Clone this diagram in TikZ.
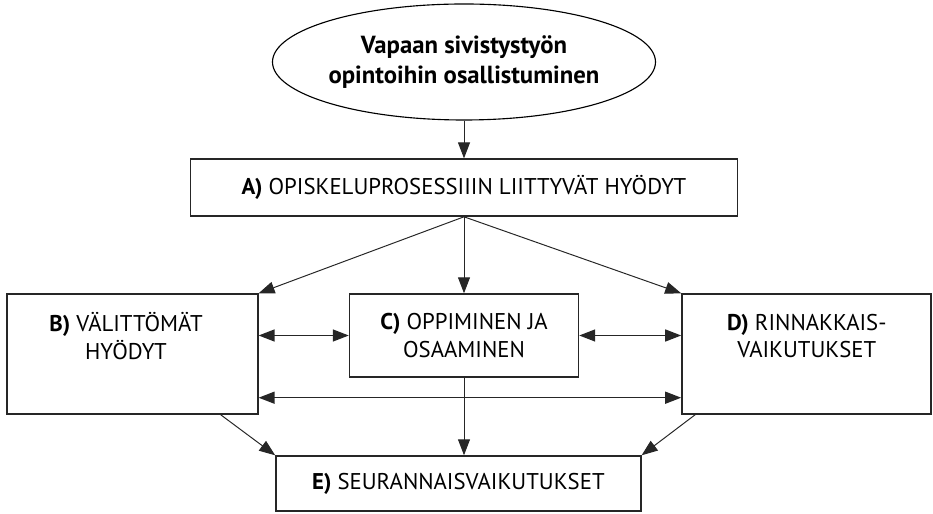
\documentclass[tikz,border=0pt]{standalone}
\usepackage{fontspec}
\setmainfont{PT Sans}
\usetikzlibrary{arrows.meta, shapes.geometric}

\begin{document}
\begin{tikzpicture}[
		every node/.style={font=\fontsize{16.2pt}{19.8pt}\selectfont},
		box/.style={rectangle, draw=black!85, line width=1pt, inner sep=0pt},
		arr/.style={-{Triangle[length=0.4cm, width=0.3cm]}, line width=0.7pt, black!85},
		darr/.style={{Triangle[length=0.4cm, width=0.3cm]}-{Triangle[length=0.4cm, width=0.3cm]}, line width=1pt, black!85}]
			\useasboundingbox (0,0) rectangle (23.325,12.85);
			% Nodes
			\node[ellipse, draw=black, line width=0.8pt, inner sep=0pt, minimum width=9.35cm, minimum height=2.9cm, align=center, font=\fontsize{17.6pt}{21.3pt}\selectfont\bfseries] (V) at (11.6,11.3) {Vapaan sivistystyön\\opintoihin osallistuminen};
			\node[box, minimum width=13.675cm, minimum height=1.425cm] (A) at (11.6,8.16) {\textbf{A)} OPISKELUPROSESSIIIN LIITTYVÄT HYÖDYT};
			\node[box, minimum width=6.275cm, minimum height=3cm] (B) at (3.31,4) {};
			\node[box, minimum width=5.725cm, minimum height=2.075cm, align=center] (C) at (11.6,4.4625) {\textbf{C)} OPPIMINEN JA\\OSAAMINEN};
			\node[box, minimum width=6.225cm, minimum height=3cm] (D) at (20.16,4) {};
			\node[box, minimum width=9.125cm, minimum height=1.375cm] (E) at (11.46,0.7625) {\textbf{E)} SEURANNAISVAIKUTUKSET};
			\node[align=center] (Bt) at (3.15,4.45) {\textbf{B)} VÄLITTÖMÄT\\HYÖDYT};
			\node[align=center] (Dt) at (20.17,4.45) {\textbf{D)} RINNAKKAIS-\\VAIKUTUKSET};
			
			% Edges
			\path[arr] (V) edge (A);
			\path[arr] (A.south) edge (B.north east);
			\path[arr] (A) edge (C);
			\path[arr] (A.south) edge (D.north west);
			
			\path[darr] (B.east |- C) edge (C);
			\path[darr] (C) edge (D.west |- C);
			\path[darr] ([yshift=0.425cm]B.south east) edge ([yshift=0.425cm]D.south west);
			
			\path[arr] ([xshift=-0.95cm]B.south east) edge (E.north west);
			\path[arr] (C.south) edge (C.south |- E.north);
			\path[arr] ([xshift=0.35cm]D.south west) edge (E.north east);
		\end{tikzpicture}
\end{document}
